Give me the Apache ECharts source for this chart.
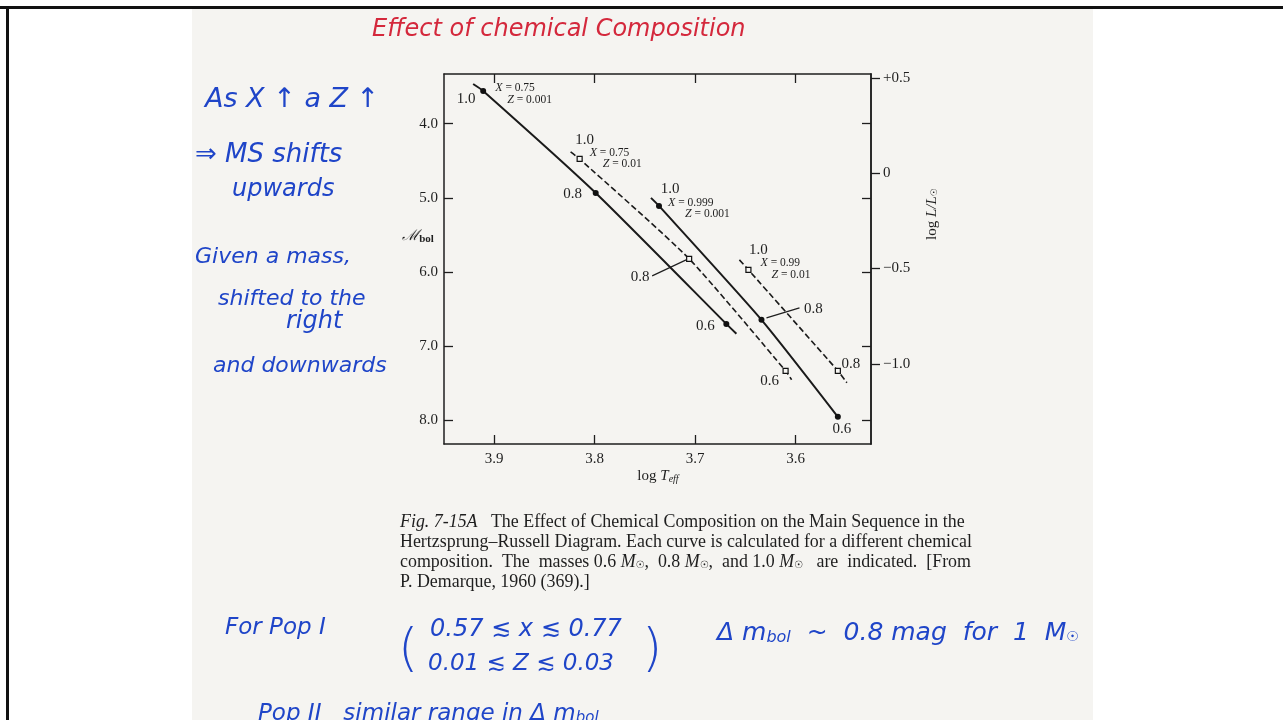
<!DOCTYPE html>
<html>
<head>
<meta charset="utf-8">
<title>Effect of Chemical Composition on the Main Sequence</title>
<script src="https://cdn.jsdelivr.net/npm/echarts@6/dist/echarts.min.js"></script>
<style>
  html, body { margin: 0; padding: 0; background: #fff; }
  #wrap { position: relative; width: 1283px; height: 720px; overflow: hidden; background: #fff; }
  #page { position: absolute; left: 192px; top: 9px; width: 901px; height: 711px; background: #f5f4f1; }
  #frameTop { position: absolute; left: 0; top: 6px; width: 1283px; height: 3px; background: #111; }
  #frameLeft { position: absolute; left: 6px; top: 6px; width: 3px; height: 714px; background: #111; }
  #chart { position: absolute; left: 0; top: 0; width: 1283px; height: 720px; }
</style>
</head>
<body>
<div id="wrap">
  <div id="page"></div>
  <div id="frameTop"></div>
  <div id="frameLeft"></div>
  <div id="chart"></div>
</div>
<script>
// ---- axis ticks ----
const logTeffTicks = [3.9, 3.8, 3.7, 3.6];
const mbolTicks = [4.0, 5.0, 6.0, 7.0, 8.0];
const logLTicks = [0.5, 0, -0.5, -1.0];
const logLTickLabels = ['+0.5', '0', '\u22120.5', '\u22121.0'];

// ---- main-sequence tracks: [log Teff, Mbol] ----
const trackA = [[3.921, 3.465], [3.911, 3.559], [3.799, 4.934], [3.669, 6.700], [3.659, 6.834]];
const trackB = [[3.824, 4.381], [3.815, 4.476], [3.706, 5.823], [3.610, 7.333], [3.604, 7.454]];
const trackC = [[3.744, 5.001], [3.736, 5.109], [3.634, 6.645], [3.558, 7.953]];
const trackD = [[3.656, 5.837], [3.647, 5.971], [3.558, 7.333], [3.549, 7.494]];

// ---- marked masses on each track: [log Teff, Mbol, mass / Msun] ----
const massesA = [[3.911, 3.559, 1.0], [3.799, 4.934, 0.8], [3.669, 6.700, 0.6]];
const massesB = [[3.815, 4.476, 1.0], [3.706, 5.823, 0.8], [3.610, 7.333, 0.6]];
const massesC = [[3.736, 5.109, 1.0], [3.634, 6.645, 0.8], [3.558, 7.953, 0.6]];
const massesD = [[3.647, 5.971, 1.0], [3.558, 7.333, 0.8]];

// ---- chemical composition of each track ----
const compX = ['0.75', '0.75', '0.999', '0.99'];
const compZ = ['0.001', '0.01', '0.001', '0.01'];

// label placement (pixel offsets from the marked point)
const massLabelOffsets = [
  [[-17, 8], [-23, 1], [-21, 2]],
  [[5, -19], [-49, 18], [-16, 10]],
  [[11, -17], [52, -11], [4, 12]],
  [[10, -20], [13, -7]]
];
const compLabelOffsets = [
  [[12, -3], [24, 9]],
  [[10, -6], [23, 5]],
  [[9, -3], [26, 8]],
  [[12, -7], [23, 5]]
];

const INK = '#1e1e1e';
const SERIF = '"Liberation Serif", "DejaVu Serif", serif';
const HAND = '"DejaVu Sans", "Noto Sans", sans-serif';
const BLUE = '#1f45c8';
const RED = '#d4283c';

const tracks = [trackA, trackB, trackC, trackD];
const masses = [massesA, massesB, massesC, massesD];
const dashed = [false, true, false, true];

function massItems(filled) {
  const items = [];
  masses.forEach((list, t) => {
    if (dashed[t] === filled) return;
    list.forEach((m, k) => {
      items.push({
        value: m,
        label: { offset: massLabelOffsets[t][k] }
      });
    });
  });
  return items;
}

const axisLineStyle = { color: INK, width: 1.5 };
const tickStyle = { color: INK, width: 1.3 };
const tickLabel = { fontFamily: SERIF, fontSize: 15, color: INK };
const massLabel = {
  show: true, position: 'inside', formatter: p => p.value[2].toFixed(1),
  fontFamily: SERIF, fontSize: 15, color: INK, textBorderWidth: 0, opacity: 1
};

const chart = echarts.init(document.getElementById('chart'), null, { renderer: 'canvas' });

const option = {
  backgroundColor: 'transparent',
  animation: false,
  grid: { left: 444, right: 412, top: 74, bottom: 276 },
  xAxis: [
    {
      type: 'value', position: 'bottom', inverse: true, min: 3.525, max: 3.95,
      axisLine: { show: true, onZero: false, lineStyle: axisLineStyle },
      axisTick: { show: true, inside: true, length: 9, customValues: logTeffTicks, lineStyle: tickStyle },
      axisLabel: Object.assign({ customValues: logTeffTicks, formatter: v => v.toFixed(1), margin: 8 }, tickLabel),
      splitLine: { show: false }
    },
    {
      type: 'value', position: 'top', inverse: true, min: 3.525, max: 3.95,
      axisLine: { show: true, onZero: false, lineStyle: axisLineStyle },
      axisTick: { show: true, inside: true, length: 9, customValues: logTeffTicks, lineStyle: tickStyle },
      axisLabel: { show: false },
      splitLine: { show: false }
    }
  ],
  yAxis: [
    {
      type: 'value', position: 'left', inverse: true, min: 3.33, max: 8.32,
      axisLine: { show: true, onZero: false, lineStyle: axisLineStyle },
      axisTick: { show: true, inside: true, length: 9, customValues: mbolTicks, lineStyle: tickStyle },
      axisLabel: Object.assign({ customValues: mbolTicks, formatter: v => v.toFixed(1), margin: 6 }, tickLabel),
      splitLine: { show: false }
    },
    {
      type: 'value', position: 'right', min: -1.42, max: 0.52,
      axisLine: { show: true, onZero: false, lineStyle: axisLineStyle },
      axisTick: { show: true, inside: false, length: 9, customValues: logLTicks, lineStyle: tickStyle },
      axisLabel: Object.assign({
        customValues: logLTicks, margin: 12,
        formatter: v => logLTickLabels[logLTicks.findIndex(t => Math.abs(t - v) < 1e-6)]
      }, tickLabel),
      splitLine: { show: false }
    },
    {
      type: 'value', position: 'right', inverse: true, min: 3.33, max: 8.32,
      axisLine: { show: true, onZero: false, lineStyle: axisLineStyle },
      axisTick: { show: true, inside: true, length: 9, customValues: mbolTicks, lineStyle: tickStyle },
      axisLabel: { show: false },
      splitLine: { show: false }
    }
  ],
  series: [
    ...tracks.map((tr, i) => ({
      type: 'line', xAxisIndex: 0, yAxisIndex: 0, data: tr,
      showSymbol: false, smooth: 0.2, silent: true, z: 2,
      lineStyle: { color: '#1a1a1a', width: dashed[i] ? 1.6 : 2, type: dashed[i] ? [6, 3] : 'solid' }
    })),
    {
      type: 'scatter', xAxisIndex: 0, yAxisIndex: 0, z: 4,
      symbol: 'circle', symbolSize: 6,
      itemStyle: { color: '#111', opacity: 1 },
      data: massItems(true),
      label: massLabel
    },
    {
      type: 'scatter', xAxisIndex: 0, yAxisIndex: 0, z: 4,
      symbol: 'rect', symbolSize: 5,
      itemStyle: { color: '#f7f6f3', borderColor: '#111', borderWidth: 1.2, opacity: 1 },
      data: massItems(false),
      label: massLabel
    }
  ]
};

chart.setOption(option);

// ---- text and leader lines placed from the axes ----
function px(pt) { return chart.convertToPixel({ xAxisIndex: 0, yAxisIndex: 0 }, [pt[0], pt[1]]); }

const graphics = [];

// composition labels at the 1.0 Msun point of each track
masses.forEach((list, t) => {
  const p = px(list[0]);
  const o = compLabelOffsets[t];
  graphics.push({
    type: 'text', x: p[0] + o[0][0], y: p[1] + o[0][1], silent: true,
    style: { text: '{i|X} = ' + compX[t], verticalAlign: 'middle', font: '11.5px ' + SERIF, fill: INK,
      rich: { i: { fontStyle: 'italic', fontFamily: SERIF, fontSize: 12 } } }
  });
  graphics.push({
    type: 'text', x: p[0] + o[1][0], y: p[1] + o[1][1], silent: true,
    style: { text: '{i|Z} = ' + compZ[t], verticalAlign: 'middle', font: '11.5px ' + SERIF, fill: INK,
      rich: { i: { fontStyle: 'italic', fontFamily: SERIF, fontSize: 12 } } }
  });
});

// leader lines to the 0.8 Msun labels
[[1, 1, [-37, 17], [-3, 1]], [2, 1, [5, -2], [38, -12]]].forEach(([t, k, a, b]) => {
  const p = px(masses[t][k]);
  graphics.push({
    type: 'line', silent: true,
    shape: { x1: p[0] + a[0], y1: p[1] + a[1], x2: p[0] + b[0], y2: p[1] + b[1] },
    style: { stroke: INK, lineWidth: 1.2 }
  });
});

// axis titles
graphics.push({
  type: 'text', x: 418, y: 236, silent: true,
  style: { text: '{m|\u2133}{s|bol}', align: 'center', verticalAlign: 'middle', fill: INK,
    rich: { m: { fontFamily: SERIF, fontSize: 15, fontStyle: 'italic', fill: INK },
            s: { fontFamily: SERIF, fontSize: 11, fontWeight: 'bold', fill: INK, padding: [6, 0, 0, 0] } } }
});
graphics.push({
  type: 'text', x: 658, y: 476, silent: true,
  style: { text: 'log {t|T}{s|eff}', align: 'center', verticalAlign: 'middle', font: '15px ' + SERIF, fill: INK,
    rich: { t: { fontFamily: SERIF, fontSize: 15, fontStyle: 'italic', fill: INK },
            s: { fontFamily: SERIF, fontSize: 10, fontStyle: 'italic', fill: INK, padding: [7, 0, 0, 0] } } }
});
graphics.push({
  type: 'text', x: 932, y: 214, rotation: Math.PI / 2, silent: true,
  style: { text: 'log {i|L/L}{s|\u2609}', align: 'center', verticalAlign: 'middle', font: '15px ' + SERIF, fill: INK,
    rich: { i: { fontFamily: SERIF, fontSize: 15, fontStyle: 'italic', fill: INK },
            s: { fontFamily: '"DejaVu Sans", sans-serif', fontSize: 9, fill: INK, padding: [6, 0, 0, 0] } } }
});

// figure caption
const CAP = 17.9;
const capRich = {
  i: { fontFamily: SERIF, fontSize: CAP, fontStyle: 'italic', fill: INK },
  m: { fontFamily: SERIF, fontSize: CAP, fontStyle: 'italic', fill: INK },
  o: { fontFamily: '"DejaVu Sans", sans-serif', fontSize: 10, fill: INK, padding: [6, 0, 0, 0] }
};
const captionLines = [
  '{i|Fig. 7-15A}   The Effect of Chemical Composition on the Main Sequence in the',
  'Hertzsprung\u2013Russell Diagram. Each curve is calculated for a different chemical',
  'composition.  The  masses 0.6 {m|M}{o|\u2609},  0.8 {m|M}{o|\u2609},  and 1.0 {m|M}{o|\u2609}   are  indicated.  [From',
  'P. Demarque, 1960 (369).]'
];
captionLines.forEach((line, i) => {
  graphics.push({
    type: 'text', x: 400, y: 522 + i * 20, silent: true,
    style: { text: line, verticalAlign: 'middle', font: CAP + 'px ' + SERIF, fill: INK, rich: capRich }
  });
});

// handwritten notes
function note(text, x, y, size, color, extra) {
  graphics.push({
    type: 'text', x: x, y: y, silent: true,
    style: Object.assign({ text: text, verticalAlign: 'middle', fill: color,
      font: 'italic ' + size + 'px ' + HAND }, extra || {})
  });
}
note('Effect of chemical Composition', 372, 30, 24, RED);
note('As X \u2191 a Z \u2191', 205, 100, 27, BLUE);
note('\u21D2 MS shifts', 195, 155, 26, BLUE);
note('upwards', 232, 190, 24, BLUE);
note('Given a mass,', 195, 257, 22, BLUE);
note('shifted to the', 218, 299, 22, BLUE);
note('right', 286, 322, 24, BLUE);
note('and downwards', 213, 366, 22, BLUE);
note('For Pop I', 225, 628, 23, BLUE);
note('(', 398, 651, 52, BLUE, { font: '300 52px ' + HAND });
note('0.57 \u2272 x \u2272 0.77', 430, 630, 24, BLUE);
note('0.01 \u2272 Z \u2272 0.03', 428, 664, 23, BLUE);
note(')', 642, 651, 52, BLUE, { font: '300 52px ' + HAND });
note('\u0394 m{s|bol}  ~  0.8 mag  for  1  M{o|\u2609}', 717, 633, 25, BLUE, {
  rich: { s: { fontFamily: HAND, fontStyle: 'italic', fontSize: 16, fill: BLUE, padding: [9, 0, 0, 0] },
          o: { fontFamily: HAND, fontSize: 14, fill: BLUE, padding: [9, 0, 0, 0] } }
});
note('Pop II   similar range in \u0394 m{s|bol}', 258, 714, 23, BLUE, {
  rich: { s: { fontFamily: HAND, fontStyle: 'italic', fontSize: 15, fill: BLUE, padding: [9, 0, 0, 0] } }
});

chart.setOption({ graphic: { elements: graphics } });
</script>
</body>
</html>
